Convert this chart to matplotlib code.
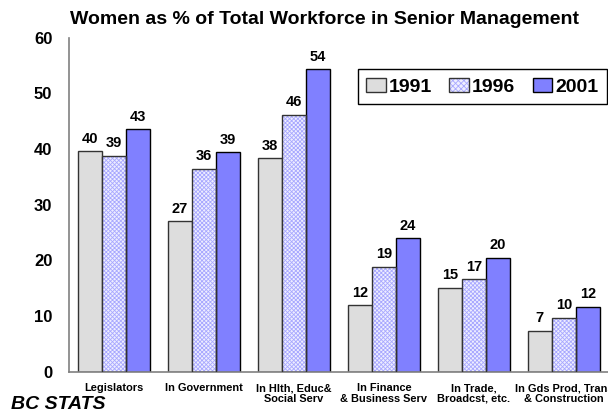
import matplotlib
matplotlib.use('Agg')
import matplotlib.pyplot as plt
import numpy as np
from matplotlib.patches import Patch

plt.rcParams['font.family'] = ['Liberation Sans', 'DejaVu Sans']
plt.rcParams['hatch.linewidth'] = 0.6

# Datos
categorias = ['Legislators', 'In Government', 'In Hlth, Educ&\nSocial Serv',
              'In Finance\n& Business Serv', 'In Trade,\nBroadcst, etc.',
              'In Gds Prod, Trans\n& Construction']
anios = ['1991', '1996', '2001']
v1991 = [39.6, 27.0, 38.3, 12.0, 15.1, 7.4]
v1996 = [38.8, 36.5, 46.1, 18.9, 16.6, 9.7]
v2001 = [43.5, 39.4, 54.3, 24.0, 20.5, 11.7]
etiquetas = [[40, 27, 38, 12, 15, 7],
             [39, 36, 46, 19, 17, 10],
             [43, 39, 54, 24, 20, 12]]

fig = plt.figure(figsize=(6.08, 4.17), dpi=100)
ax = fig.add_axes([0.1135, 0.108, 0.888, 0.802])

x = np.arange(len(categorias))
w = 0.267

# 1991: gris claro
b1 = ax.bar(x - w, v1991, w, color='#dddddd', edgecolor='#333333', linewidth=1, zorder=2)
# 1996: trama cuadriculada azul
ax.bar(x, v1996, w, color='#eeeeff', edgecolor='#a8a8ff', hatch='xxxxxxxx',
       linewidth=0, zorder=2)
b2 = ax.bar(x, v1996, w, color='none', edgecolor='#333333', linewidth=1, zorder=3)
# 2001: azul
b3 = ax.bar(x + w, v2001, w, color='#8080ff', edgecolor='black', linewidth=1, zorder=2)

for barras, etq in zip([b1, b2, b3], etiquetas):
    for rect, e in zip(barras, etq):
        ax.annotate(str(e), (rect.get_x() + rect.get_width() / 2, rect.get_height()),
                    xytext=(0, 4), textcoords='offset points', ha='center', va='bottom',
                    fontsize=10.5, fontweight='bold')

ax.set_xlim(-0.5, len(categorias) - 0.5)
ax.set_ylim(0, 60)
ax.set_yticks(range(0, 61, 10))
ax.set_xticks(x)
ax.set_xticklabels(categorias, fontsize=7.9, fontweight='bold', linespacing=1.1)
ax.tick_params(axis='y', length=0, labelsize=12, pad=12)
ax.tick_params(axis='x', length=0, pad=8)
for t in ax.get_yticklabels():
    t.set_fontweight('bold')
for s in ['top', 'right']:
    ax.spines[s].set_visible(False)
for s in ['left', 'bottom']:
    ax.spines[s].set_color('#808080')
    ax.spines[s].set_linewidth(1.2)

# Leyenda
h1 = Patch(facecolor='#dddddd', edgecolor='#333333')
h2 = (Patch(facecolor='#eeeeff', edgecolor='#a8a8ff', hatch='xxxxxx', linewidth=0),
      Patch(facecolor='none', edgecolor='#333333'))
h3 = Patch(facecolor='#8080ff', edgecolor='black')
leg = fig.legend([h1, h2, h3], anios, loc='upper right', bbox_to_anchor=(0.998, 0.835),
                 borderaxespad=0, ncol=3, prop={'weight': 'bold', 'size': 14},
                 handlelength=1.0, handleheight=0.8, handletextpad=0.15,
                 columnspacing=0.9, fancybox=False, framealpha=1, edgecolor='black',
                 borderpad=0.45)
leg.get_frame().set_linewidth(1)

fig.text(0.115, 0.953, 'Women as % of Total Workforce in Senior Management',
         fontsize=14, fontweight='bold', va='center')
fig.text(0.018, 0.03, 'BC STATS', fontsize=14, fontweight='bold', style='italic',
         va='center')

fig.savefig('out.png', dpi=100)
